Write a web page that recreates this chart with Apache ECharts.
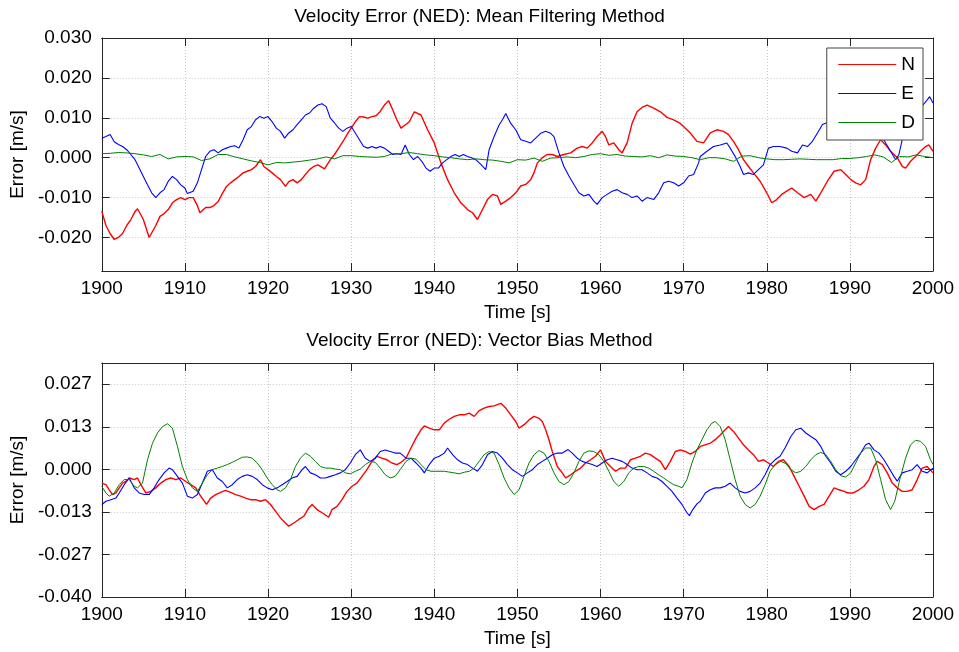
<!DOCTYPE html>
<html><head><meta charset="utf-8">
<script src="https://cdn.jsdelivr.net/npm/echarts@6/dist/echarts.min.js"></script>
<style>html,body{margin:0;padding:0;background:#fff}#c{width:959px;height:652px}</style>
</head><body><div id="c"></div>
<script>
// ---------- data (time [s], error [m/s]) ----------
const xTicks = [1900, 1910, 1920, 1930, 1940, 1950, 1960, 1970, 1980, 1990, 2000];
const topYTicks = [-0.02, -0.01, 0, 0.01, 0.02, 0.03];
const botYTicks = [-0.04, -0.02667, -0.01333, 0, 0.01333, 0.02667];
const seriesNames = ['N', 'E', 'D'];

const topN = [[1900,-0.0134],[1900.5,-0.017],[1901,-0.019],[1901.5,-0.0205],[1902,-0.020],[1902.5,-0.019],[1903,-0.017],[1903.5,-0.0155],[1904,-0.0135],[1904.3,-0.0128],[1905,-0.0155],[1905.7,-0.020],[1906.5,-0.017],[1907,-0.0147],[1907.5,-0.014],[1908,-0.013],[1908.5,-0.0113],[1909,-0.0105],[1909.5,-0.010],[1910,-0.0105],[1910.5,-0.010],[1911,-0.010],[1911.5,-0.012],[1911.8,-0.0138],[1912.5,-0.0125],[1913,-0.0125],[1913.5,-0.012],[1914,-0.011],[1914.5,-0.009],[1915,-0.0072],[1915.5,-0.0063],[1916,-0.0055],[1916.5,-0.0047],[1917,-0.0038],[1917.5,-0.0034],[1918,-0.003],[1918.5,-0.0022],[1919.1,-0.0005],[1919.5,-0.0022],[1920,-0.003],[1920.5,-0.0038],[1921,-0.0047],[1921.5,-0.0055],[1922.1,-0.0072],[1922.5,-0.006],[1923,-0.0055],[1923.5,-0.0063],[1924,-0.0055],[1924.5,-0.0042],[1925,-0.003],[1925.5,-0.0022],[1926,-0.0018],[1926.8,-0.0028],[1927.5,-0.0005],[1928,0.0008],[1928.5,0.0024],[1929,0.004],[1929.5,0.0058],[1930,0.0074],[1930.5,0.009],[1931,0.0103],[1931.5,0.0102],[1932,0.0099],[1932.5,0.0103],[1933,0.0105],[1933.5,0.0116],[1934,0.0132],[1934.5,0.0143],[1935,0.012],[1935.5,0.0095],[1936,0.0074],[1936.5,0.0082],[1937,0.009],[1937.6,0.0115],[1938.4,0.0107],[1939.2,0.007],[1940,0.0037],[1940.8,-0.0013],[1941.6,-0.0055],[1942.4,-0.0088],[1943.2,-0.0113],[1944,-0.013],[1944.6,-0.0138],[1945.2,-0.0155],[1945.8,-0.013],[1946.4,-0.0105],[1947,-0.0092],[1947.6,-0.0096],[1948,-0.0117],[1948.6,-0.0109],[1949.2,-0.010],[1949.8,-0.0088],[1950.4,-0.0071],[1951,-0.0067],[1951.6,-0.0055],[1952,-0.0038],[1952.4,-0.0013],[1953,0],[1953.6,0.0008],[1954.2,0.0008],[1954.8,0.0003],[1955.6,0.0008],[1956.4,0.0012],[1957.2,0.0024],[1957.8,0.0028],[1958.4,0.0024],[1959,0.0037],[1959.6,0.0053],[1960.2,0.0066],[1960.6,0.0053],[1961,0.0032],[1961.6,0.0037],[1962.2,0.002],[1962.6,0.0012],[1963.2,0.0037],[1963.8,0.0086],[1964.4,0.0115],[1965,0.0126],[1965.6,0.0132],[1966.4,0.0124],[1967.2,0.0115],[1968,0.0101],[1968.8,0.0095],[1969.6,0.0086],[1970.4,0.007],[1970.8,0.0062],[1971.6,0.0041],[1972.4,0.0037],[1973.2,0.0062],[1974,0.007],[1974.8,0.0066],[1975.4,0.0058],[1976,0.0041],[1976.6,0.002],[1977.2,-0.0005],[1977.8,-0.0022],[1978.4,-0.0038],[1979.2,-0.0059],[1980,-0.0088],[1980.6,-0.0113],[1981.2,-0.0105],[1981.8,-0.0092],[1982.4,-0.0084],[1983,-0.0076],[1983.7,-0.0088],[1984.5,-0.010],[1985.3,-0.0092],[1985.9,-0.0109],[1986.5,-0.0088],[1987.3,-0.0059],[1988.1,-0.0034],[1988.9,-0.003],[1989.5,-0.0042],[1990.1,-0.0055],[1990.7,-0.0063],[1991.3,-0.0068],[1991.9,-0.0055],[1992.5,-0.0005],[1993.1,0.0024],[1993.7,0.0045],[1994.3,0.0032],[1994.9,0.0016],[1995.7,0],[1996.3,-0.0022],[1996.7,-0.0026],[1997.3,-0.0009],[1997.9,0.0003],[1998.5,0.0016],[1999.1,0.0028],[1999.5,0.0032],[2000,0.0016]];

const topE = [[1900,0.0049],[1900.5,0.0053],[1901,0.0058],[1901.5,0.004],[1902,0.0033],[1902.5,0.0028],[1903,0.002],[1903.5,0.0008],[1904,-0.0005],[1904.5,-0.0026],[1905,-0.0047],[1905.5,-0.0068],[1906,-0.0088],[1906.5,-0.010],[1907,-0.0088],[1907.5,-0.008],[1908,-0.0059],[1908.5,-0.0047],[1909,-0.0055],[1909.5,-0.0068],[1910,-0.0076],[1910.3,-0.009],[1911,-0.0084],[1911.5,-0.0063],[1912,-0.003],[1912.5,0.0003],[1913,0.0016],[1913.5,0.002],[1914,0.0012],[1914.5,0.002],[1915,0.0024],[1915.5,0.0028],[1916,0.003],[1916.5,0.0024],[1917,0.0045],[1917.5,0.007],[1918,0.0078],[1918.5,0.0095],[1919,0.0103],[1919.5,0.0099],[1920,0.0103],[1920.5,0.009],[1921,0.0074],[1921.5,0.0066],[1922,0.0049],[1922.5,0.0062],[1923,0.007],[1923.5,0.0083],[1924,0.0095],[1924.5,0.0107],[1925,0.0112],[1925.5,0.0124],[1926,0.0132],[1926.5,0.0135],[1927,0.0128],[1927.5,0.0099],[1928,0.0087],[1928.5,0.0074],[1929,0.0066],[1929.5,0.0074],[1930,0.0078],[1930.5,0.0062],[1931,0.0045],[1931.5,0.0028],[1932,0.0024],[1932.5,0.0028],[1933,0.0024],[1933.5,0.0028],[1934,0.0024],[1934.5,0.0016],[1935,0.0008],[1935.5,0.001],[1936,0.0008],[1936.5,0.0032],[1937,0.0008],[1937.5,-0.0005],[1938,0.0003],[1938.5,-0.0009],[1939,-0.0026],[1939.5,-0.0034],[1940,-0.0026],[1940.5,-0.0026],[1941,-0.0013],[1941.5,-0.0005],[1942,0.0003],[1942.5,0.0008],[1943,0.0003],[1943.5,0.0008],[1944,0.0003],[1944.5,0],[1945,-0.0005],[1945.6,-0.0017],[1946.2,-0.003],[1946.6,0.002],[1947.2,0.0053],[1947.8,0.0082],[1948.2,0.0095],[1948.6,0.0111],[1949.2,0.0086],[1949.8,0.007],[1950.4,0.0045],[1951,0.0041],[1951.6,0.0037],[1952.2,0.0049],[1952.8,0.0061],[1953.4,0.0066],[1954,0.0061],[1954.4,0.0053],[1955,0.0012],[1955.6,-0.0022],[1956.2,-0.0046],[1956.8,-0.0067],[1957.4,-0.0088],[1958,-0.0096],[1958.6,-0.0092],[1959.2,-0.0109],[1959.6,-0.0117],[1960.2,-0.010],[1960.8,-0.0092],[1961.4,-0.0084],[1962,-0.008],[1962.6,-0.0088],[1963.2,-0.0092],[1963.8,-0.010],[1964.4,-0.0096],[1965,-0.0109],[1965.6,-0.010],[1966.4,-0.0105],[1967,-0.0088],[1967.6,-0.0063],[1968.2,-0.0059],[1968.8,-0.0063],[1969.4,-0.0071],[1970,-0.0063],[1970.6,-0.0046],[1971.2,-0.0042],[1971.8,-0.0013],[1972,0.0003],[1972.8,0.0016],[1973.6,0.0028],[1974.4,0.0032],[1975.2,0.0037],[1975.6,0.0024],[1976.2,0.0003],[1976.8,-0.0022],[1977.2,-0.0042],[1977.8,-0.0038],[1978.4,-0.0042],[1979,-0.003],[1979.6,-0.0018],[1980.2,0.0024],[1980.8,0.0028],[1981.6,0.0028],[1982.4,0.0024],[1983,0.0016],[1983.7,0.0012],[1984.3,0.0032],[1984.9,0.0028],[1985.5,0.0041],[1986.1,0.0062],[1986.7,0.0083],[1987.3,0.0088],[1988,0.0085],[1988.8,0.0086],[1989.5,0.0095],[1990.3,0.010],[1991.2,0.0105],[1992,0.010],[1992.8,0.0095],[1993.3,0.0085],[1993.7,0.0062],[1994.3,0.0037],[1994.9,0.0016],[1995.5,-0.0005],[1995.9,0.0008],[1996.3,0.0045],[1996.9,0.0074],[1997.5,0.0098],[1998.2,0.0115],[1998.8,0.0132],[1999.3,0.0145],[1999.6,0.0153],[2000,0.0137]];

const topD = [[1900,0.001],[1901,0.0011],[1902,0.0013],[1903,0.0012],[1904,0.001],[1905,0.0007],[1906,0.0003],[1907,0.0008],[1908,-0.0003],[1909,0.0002],[1910,0.0003],[1911,0.0002],[1912,-0.0007],[1913,-0.0003],[1914,0.0008],[1915,0.0008],[1916,0.0002],[1917,-0.0003],[1918,-0.0008],[1919,-0.0012],[1920,-0.0018],[1921,-0.0012],[1922,-0.0013],[1923,-0.0011],[1924,-0.0009],[1925,-0.0006],[1926,-0.0003],[1927,0.0002],[1928,-0.0003],[1929,0.0005],[1930,0.0005],[1931,0.0003],[1932,0.0002],[1933,0.0001],[1934,0.0003],[1935,0.001],[1936,0.001],[1937,0.0013],[1938,0.001],[1939,0.0007],[1940,0.0005],[1941,0.0002],[1942,0.0],[1943,-0.0003],[1944,-0.0005],[1945,-0.0003],[1946,-0.0005],[1947,-0.0006],[1948,-0.0009],[1949,-0.0013],[1950,-0.0005],[1951,-0.0006],[1952,-0.0001],[1953,-0.0009],[1954,-0.0001],[1955,0.0],[1956,0.0002],[1957,0.0],[1958,0.0003],[1959,0.0008],[1960,0.001],[1961,0.0006],[1962,0.0008],[1963,0.0004],[1964,0.0003],[1965,0.0002],[1966,0.0005],[1967,0.0],[1968,0.0007],[1969,0.0004],[1970,0.0003],[1971,0.0],[1972,-0.0005],[1973,0.0],[1974,0.0],[1975,-0.0003],[1976,-0.0009],[1977,0.0004],[1978,0.0005],[1979,0.0],[1980,-0.0003],[1981,-0.0005],[1982,-0.0005],[1983,-0.0004],[1984,-0.0003],[1985,-0.0004],[1986,-0.0005],[1987,-0.0005],[1988,-0.0005],[1989,-0.0002],[1990,-0.0002],[1991,0.0],[1992,0.0003],[1993,0.0007],[1994,0.0002],[1995,-0.0012],[1996,0.0003],[1997,0.0002],[1998,0.0007],[1999,0.0003],[2000,0.0]];

const botN = [[1900,-0.0043],[1900.5,-0.0048],[1900.9,-0.0064],[1901.3,-0.0079],[1901.7,-0.0074],[1902.1,-0.0058],[1902.5,-0.0043],[1902.9,-0.0038],[1903.3,-0.0027],[1903.9,-0.0032],[1904.3,-0.0027],[1904.7,-0.0048],[1905.3,-0.0074],[1905.9,-0.0069],[1906.5,-0.0058],[1907.1,-0.0043],[1907.7,-0.0032],[1908.3,-0.0027],[1908.9,-0.0032],[1909.5,-0.0027],[1910.1,-0.0038],[1910.7,-0.0048],[1911.3,-0.0058],[1911.9,-0.0084],[1912.6,-0.011],[1913.1,-0.009],[1913.7,-0.0079],[1914.3,-0.0072],[1914.9,-0.0066],[1915.5,-0.0072],[1916.1,-0.0079],[1916.7,-0.0084],[1917.3,-0.009],[1917.9,-0.0095],[1918.5,-0.0095],[1919.1,-0.010],[1919.7,-0.0095],[1920.3,-0.011],[1920.9,-0.0131],[1921.5,-0.0152],[1922.1,-0.0168],[1922.5,-0.0178],[1923.1,-0.0168],[1923.7,-0.0157],[1924.3,-0.0147],[1924.9,-0.0121],[1925.3,-0.011],[1925.9,-0.0126],[1926.5,-0.0136],[1927.3,-0.015],[1927.7,-0.0126],[1928.3,-0.0116],[1928.9,-0.0095],[1929.5,-0.0069],[1930.1,-0.0053],[1930.7,-0.0043],[1931.3,-0.0022],[1931.9,-0.0001],[1932.5,0.0025],[1933.1,0.0041],[1933.7,0.0035],[1934.3,0.003],[1934.9,0.002],[1935.5,0.0015],[1935.9,0.002],[1936.6,0.0035],[1937.2,0.0067],[1937.8,0.0098],[1938.4,0.0124],[1938.8,0.0136],[1939.4,0.0129],[1940,0.0124],[1940.6,0.0124],[1941.2,0.0145],[1941.8,0.0157],[1942.4,0.0166],[1943,0.0171],[1943.6,0.0171],[1944.2,0.0176],[1944.8,0.0166],[1945.4,0.0184],[1946,0.0192],[1946.6,0.0197],[1947.2,0.0199],[1948,0.0207],[1948.6,0.0192],[1949.2,0.0171],[1949.8,0.015],[1950.2,0.0129],[1950.8,0.014],[1951.4,0.0155],[1952,0.0166],[1952.6,0.016],[1953,0.015],[1953.4,0.0124],[1953.8,0.0093],[1954.2,0.0056],[1954.8,0.0009],[1955.4,-0.0011],[1955.8,-0.0027],[1956.4,-0.0017],[1957,-0.0006],[1957.6,0.0004],[1958.2,0.002],[1958.8,0.003],[1959.4,0.0041],[1960,0.0061],[1960.6,0.0025],[1961.2,0.0009],[1961.8,-0.0006],[1962.4,0.0004],[1963,0.0004],[1963.6,0.003],[1964.2,0.0035],[1964.8,0.0041],[1965.4,0.0051],[1966,0.0046],[1966.6,0.0035],[1967.2,0.0025],[1967.8,-0.0001],[1968.4,0.0025],[1969,0.0056],[1969.6,0.0061],[1970.2,0.0056],[1970.8,0.0048],[1971.4,0.0056],[1972,0.0072],[1972.6,0.0077],[1973.2,0.0082],[1973.8,0.0093],[1974.4,0.0108],[1975,0.0124],[1975.4,0.0134],[1976,0.0119],[1976.6,0.0098],[1977.2,0.0077],[1977.8,0.0061],[1978.4,0.0046],[1979,0.0025],[1979.6,0.003],[1980.2,0.002],[1980.8,0.0009],[1981.4,0.0025],[1982,0.003],[1982.7,0.0009],[1983.3,-0.0022],[1983.9,-0.0053],[1984.5,-0.0084],[1985.1,-0.0116],[1985.7,-0.0126],[1986.3,-0.0116],[1986.9,-0.011],[1987.5,-0.0084],[1988.1,-0.0058],[1988.7,-0.0064],[1989.3,-0.0069],[1989.8,-0.0074],[1990.4,-0.0074],[1991.1,-0.0064],[1991.7,-0.0053],[1992.3,-0.0032],[1992.9,0.0009],[1993.3,0.0025],[1993.9,0.0015],[1994.5,-0.0011],[1995.1,-0.0043],[1995.7,-0.0058],[1996.3,-0.0069],[1996.9,-0.0069],[1997.5,-0.0064],[1998.1,-0.0032],[1998.7,0.0004],[1999.3,0.0009],[2000,-0.0011]];

const botE = [[1900,-0.011],[1900.5,-0.010],[1901.1,-0.0095],[1901.7,-0.009],[1902.1,-0.0074],[1902.7,-0.0048],[1903.3,-0.0027],[1903.9,-0.0058],[1904.5,-0.0074],[1905.1,-0.0079],[1905.7,-0.0079],[1906.3,-0.0058],[1906.9,-0.0032],[1907.5,-0.0011],[1908.1,0.0004],[1908.5,-0.0001],[1909.1,-0.0022],[1909.7,-0.0043],[1910.3,-0.0084],[1910.9,-0.009],[1911.5,-0.0079],[1912.1,-0.0043],[1912.7,-0.0006],[1913.3,-0.0001],[1913.9,-0.0027],[1914.5,-0.0038],[1915.1,-0.0058],[1915.7,-0.0048],[1916.3,-0.0032],[1916.9,-0.0022],[1917.5,-0.0017],[1918.1,-0.0022],[1918.7,-0.0032],[1919.3,-0.0048],[1919.9,-0.0058],[1920.5,-0.0064],[1921.1,-0.0058],[1921.7,-0.0048],[1922.3,-0.0038],[1922.9,-0.0027],[1923.5,-0.0022],[1924.1,-0.0001],[1924.5,0.0009],[1925.1,-0.0011],[1925.7,-0.0017],[1926.3,-0.0027],[1926.9,-0.0027],[1927.5,-0.0022],[1928.1,-0.0017],[1928.7,-0.0011],[1929.3,-0.0001],[1929.9,0.002],[1930.5,0.0046],[1931.1,0.0061],[1931.7,0.0035],[1932.3,0.0025],[1932.9,0.0035],[1933.5,0.0056],[1934.1,0.0061],[1934.7,0.0056],[1935.3,0.0051],[1935.9,0.0051],[1936.6,0.0035],[1937.2,0.0035],[1937.8,0.002],[1938.4,0.0004],[1938.8,-0.0011],[1939.4,0.0015],[1940,0.0035],[1940.6,0.0041],[1941.2,0.0051],[1941.6,0.0067],[1942.2,0.0046],[1942.8,0.003],[1943.4,0.002],[1944,0.0015],[1944.6,0.0004],[1945.2,-0.0006],[1945.8,0.0015],[1946.4,0.0046],[1947,0.0056],[1947.6,0.0051],[1948.2,0.0035],[1948.8,0.0015],[1949.4,-0.0001],[1950,-0.0011],[1950.6,-0.0022],[1951.2,-0.0011],[1951.8,-0.0001],[1952.4,0.0015],[1953,0.0025],[1953.6,0.0035],[1954.2,0.0046],[1954.8,0.0051],[1955.4,0.0051],[1956.1,0.0062],[1956.6,0.0051],[1957.2,0.0035],[1957.8,0.0025],[1958.4,0.002],[1959,0.0015],[1959.6,0.0009],[1960.2,0.002],[1960.8,0.003],[1961.4,0.0035],[1962,0.003],[1962.6,0.0025],[1963.2,0.0015],[1963.8,0.0004],[1964.4,-0.0001],[1965,-0.0001],[1965.6,-0.0011],[1966.2,-0.0022],[1966.8,-0.0027],[1967.4,-0.0038],[1968,-0.0053],[1968.6,-0.0069],[1969.2,-0.009],[1969.8,-0.011],[1970.4,-0.0136],[1970.7,-0.0145],[1971.1,-0.0126],[1971.6,-0.0108],[1972,-0.010],[1972.6,-0.0074],[1973.2,-0.0064],[1973.8,-0.0058],[1974.4,-0.0058],[1975,-0.0053],[1975.6,-0.0043],[1976.2,-0.0058],[1976.8,-0.0069],[1977.4,-0.0074],[1978,-0.0069],[1978.6,-0.0058],[1979.2,-0.0043],[1979.8,-0.0017],[1980.4,0.0015],[1981,0.003],[1981.6,0.0041],[1982.2,0.0067],[1982.9,0.0103],[1983.5,0.0124],[1984.1,0.0129],[1984.7,0.0114],[1985.3,0.0103],[1985.9,0.0093],[1986.5,0.0072],[1987.1,0.0041],[1987.7,0.002],[1988.3,-0.0006],[1988.9,-0.0017],[1989.5,-0.0006],[1990.1,0.0009],[1990.7,0.003],[1991.3,0.0051],[1991.9,0.0077],[1992.3,0.0082],[1992.9,0.0061],[1993.5,0.0051],[1994.1,0.003],[1994.7,0.0004],[1995.3,-0.0022],[1995.7,-0.0037],[1996.3,-0.0011],[1996.9,-0.0006],[1997.5,-0.0001],[1998.1,0.0015],[1998.7,-0.0006],[1999.3,-0.0011],[2000,0.0004]];

const botD = [[1900,-0.0053],[1900.5,-0.0074],[1900.9,-0.0084],[1901.5,-0.0074],[1902.1,-0.0048],[1902.7,-0.0032],[1903.3,-0.0032],[1903.9,-0.0053],[1904.3,-0.0058],[1904.9,-0.0043],[1905.5,0.003],[1906.1,0.0082],[1906.7,0.0114],[1907.3,0.0134],[1907.9,0.0143],[1908.5,0.0129],[1909.1,0.0072],[1909.7,0.0009],[1910.3,-0.0032],[1910.9,-0.0058],[1911.5,-0.0069],[1912.1,-0.0043],[1912.7,-0.0017],[1913.3,-0.0001],[1913.9,0.0004],[1914.5,0.0009],[1915.1,0.0015],[1915.7,0.0022],[1916.3,0.003],[1916.9,0.0038],[1917.5,0.0039],[1918.1,0.0035],[1918.7,0.002],[1919.3,-0.0001],[1919.9,-0.0027],[1920.5,-0.0048],[1921.1,-0.0064],[1921.5,-0.0069],[1922.1,-0.0058],[1922.7,-0.0032],[1923.3,0.0009],[1923.9,0.0035],[1924.5,0.0051],[1925.1,0.0041],[1925.7,0.0025],[1926.3,0.0009],[1926.9,0.0004],[1927.5,0.0004],[1928.1,0.0001],[1928.7,-0.0001],[1929.3,-0.0011],[1929.9,-0.0014],[1930.5,-0.0006],[1931.1,0.0001],[1931.7,0.0015],[1932.3,0.0025],[1932.9,0.0022],[1933.5,0.0004],[1934.1,-0.0017],[1934.7,-0.0027],[1935.3,-0.0022],[1935.9,-0.0001],[1936.6,0.0025],[1937.2,0.0035],[1937.8,0.0032],[1938.4,0.0015],[1939,-0.0001],[1939.6,-0.0006],[1940.2,-0.0006],[1941.2,-0.0006],[1942.4,-0.0011],[1943,-0.0014],[1943.6,-0.0009],[1944.2,-0.0006],[1944.8,0.0004],[1945.4,0.0025],[1946,0.0046],[1946.6,0.0056],[1947.2,0.0051],[1947.8,0.0015],[1948.4,-0.0027],[1949,-0.0058],[1949.6,-0.0079],[1950.2,-0.0064],[1950.8,-0.0022],[1951.4,0.002],[1952,0.0046],[1952.6,0.0059],[1953.2,0.0051],[1953.8,0.0025],[1954.4,-0.0011],[1955,-0.0038],[1955.6,-0.0048],[1956.2,-0.0038],[1956.8,-0.0011],[1957.4,0.0025],[1958,0.0051],[1958.6,0.0058],[1959.2,0.0056],[1959.8,0.0046],[1960.4,0.0025],[1961,-0.0006],[1961.6,-0.0038],[1962.2,-0.0053],[1962.8,-0.0038],[1963.4,-0.0011],[1964,0.0004],[1964.6,0.0009],[1965.2,0.0009],[1965.8,0.0004],[1966.4,-0.0006],[1967,-0.0017],[1967.6,-0.0027],[1968.2,-0.0038],[1968.8,-0.0048],[1969.4,-0.0053],[1969.8,-0.0058],[1970.4,-0.0032],[1971,0.002],[1971.6,0.0062],[1972.2,0.0093],[1972.8,0.0124],[1973.4,0.0145],[1973.8,0.015],[1974.4,0.0134],[1975,0.0093],[1975.6,0.003],[1976.2,-0.0032],[1976.8,-0.0084],[1977.4,-0.011],[1978,-0.0121],[1978.6,-0.011],[1979.2,-0.0084],[1979.8,-0.0048],[1980.4,-0.0006],[1981,0.0015],[1981.7,0.0025],[1982.3,0.0018],[1982.9,-0.0001],[1983.5,-0.0011],[1984.1,-0.0006],[1984.7,0.0009],[1985.3,0.003],[1985.9,0.0046],[1986.5,0.0053],[1987.1,0.0046],[1987.7,0.0025],[1988.3,-0.0001],[1988.9,-0.002],[1989.5,-0.0024],[1990.1,-0.0011],[1990.7,0.002],[1991.3,0.0051],[1991.9,0.0067],[1992.5,0.0067],[1993.1,0.003],[1993.7,-0.0032],[1994.3,-0.0095],[1994.9,-0.0126],[1995.4,-0.010],[1996,-0.0032],[1996.7,0.0035],[1997.3,0.0077],[1997.9,0.0091],[1998.5,0.0088],[1999.1,0.0072],[1999.7,0.003],[2000,0.0015]];

// ---------- chart ----------
const FONT = '"Liberation Sans", Arial, Helvetica, sans-serif';
const AX = '#262626';
const COLORS = {N: '#ff0000', E: '#0000ff', D: '#008000'};
const fmt3 = v => (Math.abs(v) < 1e-9 ? 0 : v).toFixed(3);

function xAxes(gridIndex) {
  const base = {
    type: 'value', gridIndex, min: 1900, max: 2000, interval: 10,
    axisLine: {show: true, onZero: false, lineStyle: {color: AX, width: 1}},
    axisTick: {show: true, inside: true, length: 8, lineStyle: {color: AX}}
  };
  return [
    Object.assign({}, base, {
      position: 'bottom',
      axisLabel: {show: true, margin: 8, color: '#000', fontSize: 19, fontFamily: FONT,
        customValues: xTicks, formatter: v => String(v)},
      splitLine: {show: true, lineStyle: {color: '#c8c8c8', type: [1, 2], width: 1}},
      name: 'Time [s]', nameLocation: 'middle', nameGap: 32,
      nameTextStyle: {color: '#000', fontSize: 19, fontFamily: FONT}
    }),
    Object.assign({}, base, {
      position: 'top', axisLabel: {show: false}, splitLine: {show: false}
    })
  ];
}

function yAxes(gridIndex, min, max, ticks) {
  const base = {
    type: 'value', gridIndex, min, max,
    axisLine: {show: true, onZero: false, lineStyle: {color: AX, width: 1}},
    axisTick: {show: true, inside: true, length: 8, lineStyle: {color: AX}, customValues: ticks}
  };
  return [
    Object.assign({}, base, {
      position: 'left',
      axisLabel: {show: true, margin: 10, color: '#000', fontSize: 19, fontFamily: FONT,
        customValues: ticks, formatter: fmt3},
      splitLine: {show: true, lineStyle: {color: '#c8c8c8', type: [1, 2], width: 1}},
      name: 'Error [m/s]', nameLocation: 'middle', nameGap: 73, nameRotate: 90,
      nameTextStyle: {color: '#000', fontSize: 19, fontFamily: FONT}
    }),
    Object.assign({}, base, {
      position: 'right', axisLabel: {show: false}, splitLine: {show: false}
    })
  ];
}

function line(name, data, xi, yi, width) {
  return {
    type: 'line', name, data, xAxisIndex: xi, yAxisIndex: yi,
    showSymbol: false, symbol: 'none', sampling: false,
    lineStyle: {color: COLORS[name], width},
    itemStyle: {color: COLORS[name]},
    emphasis: {disabled: true}, z: 2
  };
}

const option = {
  animation: false,
  backgroundColor: '#ffffff',
  textStyle: {fontFamily: FONT},
  grid: [
    {left: 101, right: 26, top: 38, height: 233, containLabel: false},
    {left: 101, right: 26, top: 363, height: 234, containLabel: false}
  ],
  xAxis: [...xAxes(0), ...xAxes(1)],
  yAxis: [...yAxes(0, -0.0284, 0.03, topYTicks), ...yAxes(1, -0.04, 0.04 / 1.2, botYTicks)],
  legend: {
    data: seriesNames, orient: 'vertical', right: 36, top: 48,
    padding: [7, 8, 8, 11], itemGap: 10, itemWidth: 58, itemHeight: 14,
    backgroundColor: '#ffffff', borderColor: '#444', borderWidth: 1,
    itemStyle: {opacity: 0, borderWidth: 0},
    lineStyle: {width: 1},
    textStyle: {color: '#000', fontSize: 19, fontFamily: FONT},
    selectedMode: false, z: 10
  },
  graphic: [
    {type: 'text', left: 'center', top: 7, z: 10,
      style: {text: 'Velocity Error (NED): Mean Filtering Method', fontSize: 19, fontFamily: FONT, fill: '#000'}},
    {type: 'text', left: 'center', top: 331, z: 10,
      style: {text: 'Velocity Error (NED): Vector Bias Method', fontSize: 19, fontFamily: FONT, fill: '#000'}}
  ],
  series: [
    line('N', topN, 0, 0, 1.4),
    line('E', topE, 0, 0, 1.1),
    line('D', topD, 0, 0, 1),
    line('N', botN, 2, 2, 1.4),
    line('E', botE, 2, 2, 1.1),
    line('D', botD, 2, 2, 1)
  ]
};

const chart = echarts.init(document.getElementById('c'), null, {renderer: 'canvas'});
chart.setOption(option);
</script>
</body></html>
